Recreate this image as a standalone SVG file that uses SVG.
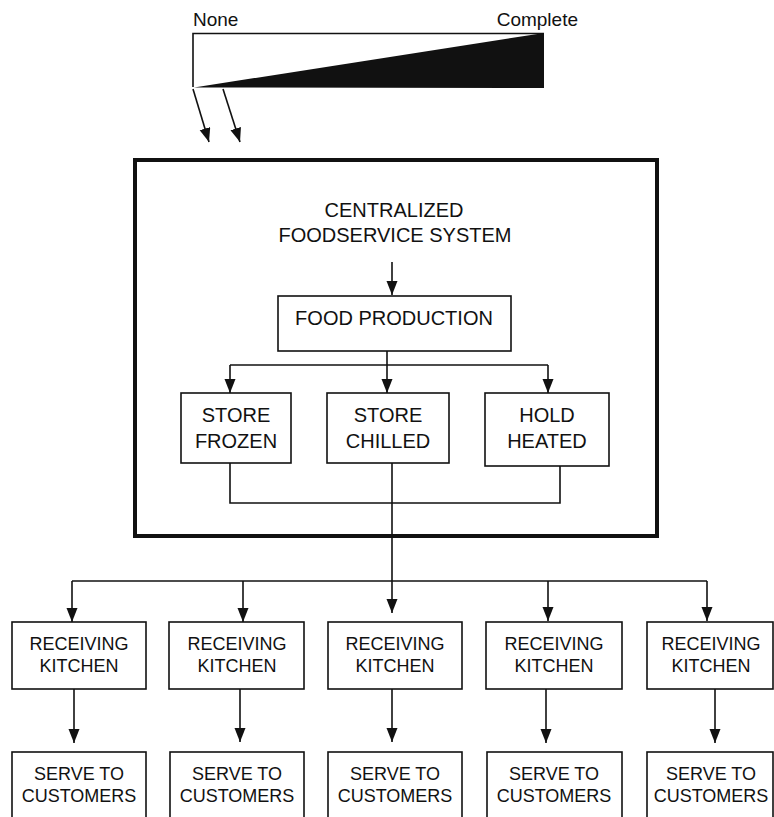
<svg xmlns="http://www.w3.org/2000/svg" width="774" height="817" viewBox="0 0 774 817">
<style>
text{font-family:"Liberation Sans",Arial,sans-serif;fill:#111;text-anchor:middle}
.t20{font-size:20px}
.t18{font-size:18px}
.box{fill:#fff;stroke:#111;stroke-width:1.6}
.ln{fill:none;stroke:#111;stroke-width:1.6}
</style>
<defs>
<marker id="ah" markerUnits="userSpaceOnUse" markerWidth="15" markerHeight="12" refX="14" refY="5.5" orient="auto">
<path d="M0,0 L14,5.5 L0,11 z" fill="#111"/>
</marker>
</defs>
<rect width="774" height="817" fill="#fff"/>

<g id="scale">
<text x="193" y="26" style="font-size:19px;text-anchor:start">None</text>
<text x="578" y="26" style="font-size:19px;text-anchor:end">Complete</text>
<path d="M193,87 L193,33.5 L544,33.5" class="ln" stroke-width="1.4"/>
<polygon points="194,87.5 544,33 544,88" fill="#111"/>
</g>

<g id="central-system">
<rect x="135" y="160" width="522" height="376" fill="none" stroke="#111" stroke-width="4"/>
<text x="394" y="217" class="t20">CENTRALIZED</text>
<text x="395" y="242" class="t20">FOODSERVICE SYSTEM</text>
</g>

<g id="food-production">
<rect x="278" y="296" width="233" height="55" class="box"/>
<text x="394" y="325" class="t20">FOOD PRODUCTION</text>
</g>
<g id="store-frozen">
<rect x="181" y="393" width="110" height="70" class="box"/>
<text x="236" y="422" class="t20">STORE</text>
<text x="236" y="448" class="t20">FROZEN</text>
</g>
<g id="store-chilled">
<rect x="327" y="393" width="122" height="70" class="box"/>
<text x="388" y="422" class="t20">STORE</text>
<text x="388" y="448" class="t20">CHILLED</text>
</g>
<g id="hold-heated">
<rect x="485" y="393" width="124" height="73" class="box"/>
<text x="547" y="422" class="t20">HOLD</text>
<text x="547" y="448" class="t20">HEATED</text>
</g>

<g id="receiving-1">
<rect x="12" y="622" width="134" height="67" class="box"/>
<text x="79" y="650" class="t18">RECEIVING</text>
<text x="79" y="672" class="t18">KITCHEN</text>
</g>
<g id="receiving-2">
<rect x="169" y="622" width="135" height="67" class="box"/>
<text x="237" y="650" class="t18">RECEIVING</text>
<text x="237" y="672" class="t18">KITCHEN</text>
</g>
<g id="receiving-3">
<rect x="328" y="622" width="134" height="67" class="box"/>
<text x="395" y="650" class="t18">RECEIVING</text>
<text x="395" y="672" class="t18">KITCHEN</text>
</g>
<g id="receiving-4">
<rect x="486" y="622" width="136" height="67" class="box"/>
<text x="554" y="650" class="t18">RECEIVING</text>
<text x="554" y="672" class="t18">KITCHEN</text>
</g>
<g id="receiving-5">
<rect x="647" y="622" width="126" height="67" class="box"/>
<text x="711" y="650" class="t18">RECEIVING</text>
<text x="711" y="672" class="t18">KITCHEN</text>
</g>

<g id="serve-1">
<rect x="12" y="752" width="134" height="80" class="box"/>
<text x="79" y="780" class="t18">SERVE TO</text>
<text x="79" y="802" class="t18">CUSTOMERS</text>
</g>
<g id="serve-2">
<rect x="170" y="752" width="134" height="80" class="box"/>
<text x="237" y="780" class="t18">SERVE TO</text>
<text x="237" y="802" class="t18">CUSTOMERS</text>
</g>
<g id="serve-3">
<rect x="328" y="752" width="134" height="80" class="box"/>
<text x="395" y="780" class="t18">SERVE TO</text>
<text x="395" y="802" class="t18">CUSTOMERS</text>
</g>
<g id="serve-4">
<rect x="487" y="752" width="135" height="80" class="box"/>
<text x="554" y="780" class="t18">SERVE TO</text>
<text x="554" y="802" class="t18">CUSTOMERS</text>
</g>
<g id="serve-5">
<rect x="647" y="752" width="126" height="80" class="box"/>
<text x="711" y="780" class="t18">SERVE TO</text>
<text x="711" y="802" class="t18">CUSTOMERS</text>
</g>

<g id="connectors" class="ln">
<path d="M193,89 L209,142" marker-end="url(#ah)"/>
<path d="M223,89 L240,142" marker-end="url(#ah)"/>
<path d="M392,262 L392,295" marker-end="url(#ah)"/>
<path d="M387,351 L387,365"/>
<path d="M230,365 L548,365"/>
<path d="M230,365 L230,393" marker-end="url(#ah)"/>
<path d="M387,365 L387,393" marker-end="url(#ah)"/>
<path d="M548,365 L548,393" marker-end="url(#ah)"/>
<path d="M230,463 L230,503 L560,503 L560,466"/>
<path d="M392,463 L392,613" marker-end="url(#ah)"/>
<path d="M72,581 L707,581"/>
<path d="M72,581 L72,622" marker-end="url(#ah)"/>
<path d="M243,581 L243,622" marker-end="url(#ah)"/>
<path d="M548,581 L548,621" marker-end="url(#ah)"/>
<path d="M707,581 L707,621" marker-end="url(#ah)"/>
<path d="M74,689 L74,743" marker-end="url(#ah)"/>
<path d="M240,689 L240,742" marker-end="url(#ah)"/>
<path d="M392,689 L392,742" marker-end="url(#ah)"/>
<path d="M546,689 L546,743" marker-end="url(#ah)"/>
<path d="M715,689 L715,743" marker-end="url(#ah)"/>
</g>
</svg>
